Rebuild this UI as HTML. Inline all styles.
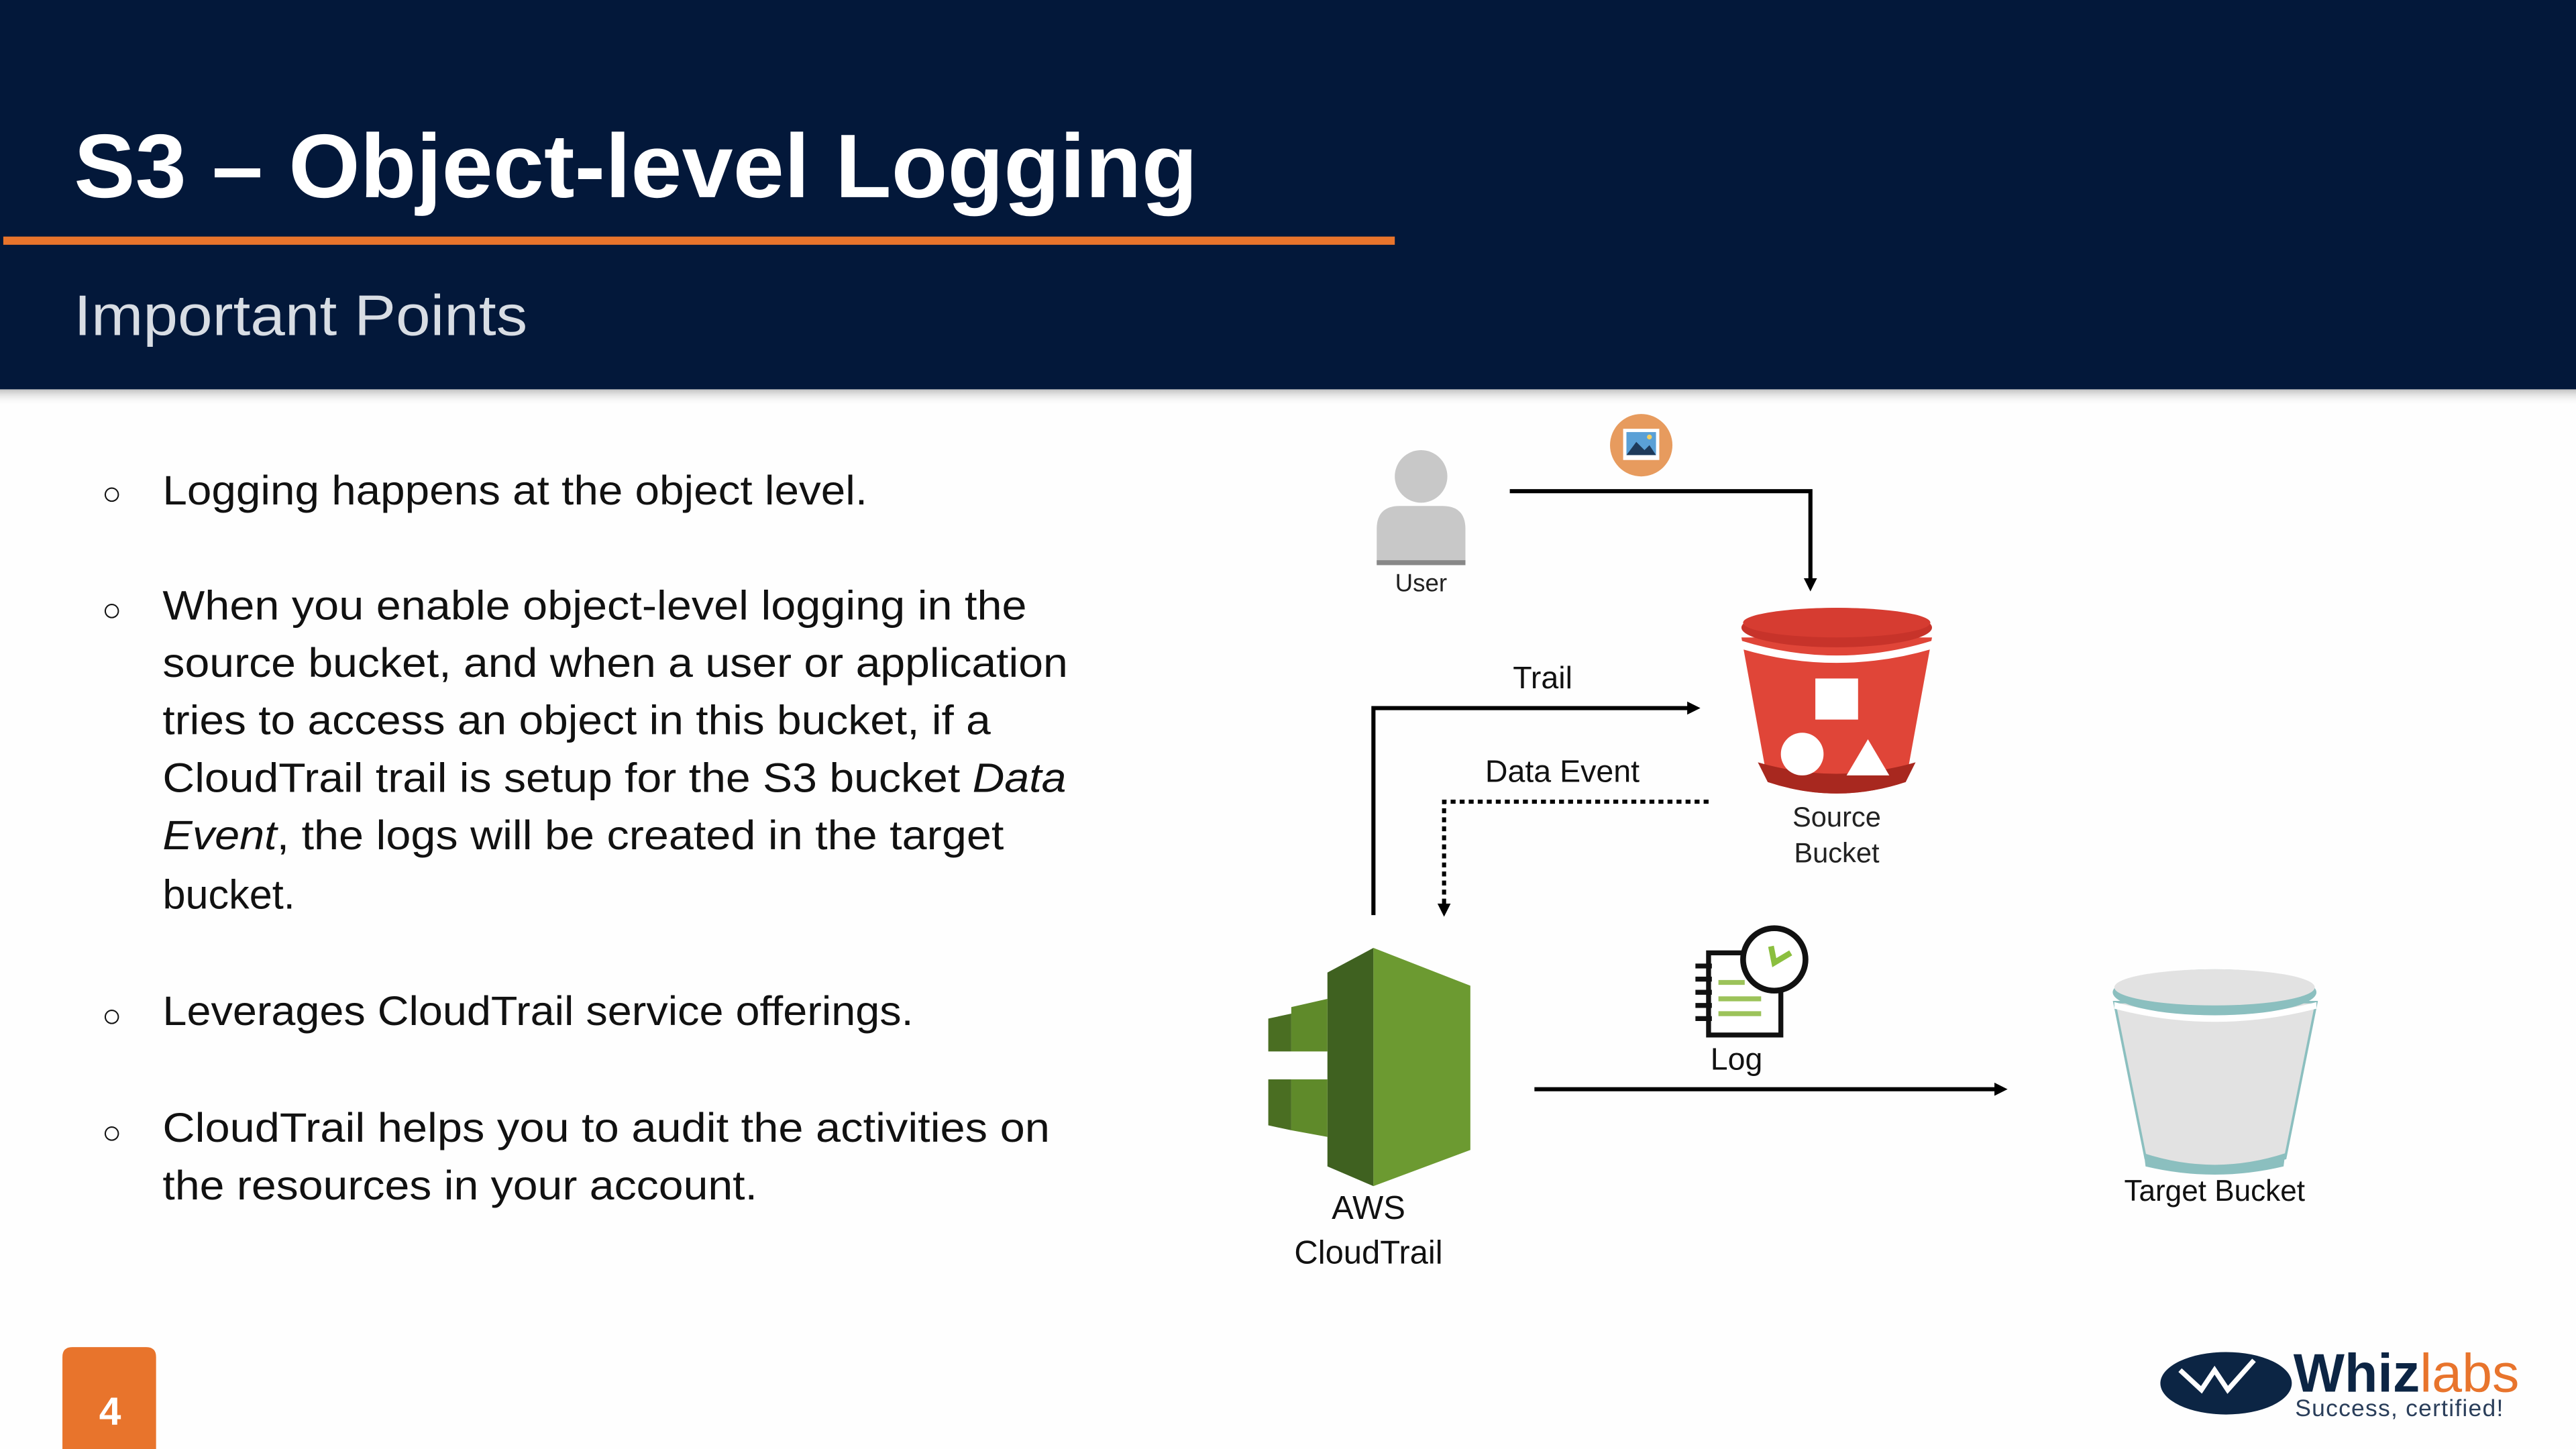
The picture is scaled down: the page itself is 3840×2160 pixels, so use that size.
<!DOCTYPE html>
<html><head><meta charset="utf-8"><style>html,body{margin:0;padding:0;background:#fff;}svg{display:block}</style></head>
<body>
<svg width="3840" height="2160" viewBox="0 0 1568 882" preserveAspectRatio="none" xmlns="http://www.w3.org/2000/svg" font-family="Liberation Sans, sans-serif">
<defs>
<linearGradient id="sh" x1="0" y1="0" x2="0" y2="1"><stop offset="0" stop-color="#999" stop-opacity="0.6"/><stop offset="1" stop-color="#fff" stop-opacity="0"/></linearGradient>
<marker id="ah" markerWidth="8" markerHeight="8" refX="4" refY="4" orient="auto" markerUnits="userSpaceOnUse"><path d="M0,0 L8,4 L0,8 z" fill="#000"/></marker>
</defs>
<rect width="1568" height="882" fill="#fefefe"/>
<rect x="0" y="0" width="1568" height="237" fill="#03183a"/>
<rect x="0" y="237" width="1568" height="10" fill="url(#sh)"/>
<text x="45" y="120" font-size="55" font-weight="bold" fill="#fff" textLength="684" lengthAdjust="spacingAndGlyphs">S3 – Object-level Logging</text>
<rect x="2" y="144" width="847" height="5" fill="#e8742c"/>
<text x="45" y="204" font-size="35" fill="#d8dde4" textLength="276" lengthAdjust="spacingAndGlyphs">Important Points</text>

<g font-size="25" fill="#111">
<text x="62" y="307" font-size="20">○</text>
<text x="99" y="307" textLength="429" lengthAdjust="spacingAndGlyphs">Logging happens at the object level.</text>
<text x="62" y="378" font-size="20">○</text>
<text x="99" y="377" textLength="526" lengthAdjust="spacingAndGlyphs">When you enable object-level logging in the</text>
<text x="99" y="412" textLength="551" lengthAdjust="spacingAndGlyphs">source bucket, and when a user or application</text>
<text x="99" y="447" textLength="504" lengthAdjust="spacingAndGlyphs">tries to access an object in this bucket, if a</text>
<text x="99" y="482" textLength="550" lengthAdjust="spacingAndGlyphs">CloudTrail trail is setup for the S3 bucket <tspan font-style="italic">Data</tspan></text>
<text x="99" y="517" textLength="512" lengthAdjust="spacingAndGlyphs"><tspan font-style="italic">Event</tspan>, the logs will be created in the target</text>
<text x="99" y="553">bucket.</text>
<text x="62" y="625" font-size="20">○</text>
<text x="99" y="624" textLength="457" lengthAdjust="spacingAndGlyphs">Leverages CloudTrail service offerings.</text>
<text x="62" y="696" font-size="20">○</text>
<text x="99" y="695" textLength="540" lengthAdjust="spacingAndGlyphs">CloudTrail helps you to audit the activities on</text>
<text x="99" y="730" textLength="362" lengthAdjust="spacingAndGlyphs">the resources in your account.</text>
</g>

<path d="M38,882 V826 Q38,820 44,820 H89 Q95,820 95,826 V882 Z" fill="#e8742c"/>
<text x="67" y="867" font-size="24" font-weight="bold" fill="#fff" text-anchor="middle">4</text>

<!-- user -->
<circle cx="865" cy="290" r="16" fill="#c8c8c8"/>
<path d="M838,343 V322 Q838,308 852,308 H878 Q892,308 892,322 V343 Z" fill="#c8c8c8"/>
<rect x="838" y="341" width="54" height="3" fill="#888"/>
<text x="865" y="360" font-size="15" text-anchor="middle" fill="#222">User</text>
<!-- image icon -->
<circle cx="999" cy="271" r="19" fill="#e79b5e"/>
<rect x="988" y="261" width="22" height="19" fill="#fff"/>
<rect x="990" y="263" width="18" height="14" fill="#5aa0d6"/>
<path d="M990,277 L996,269 L1001,274 L1004,271 L1008,277 Z" fill="#1e3a5a"/>
<circle cx="1004" cy="266" r="1.5" fill="#f5d060"/>
<polyline points="919,299 1102,299 1102,356" fill="none" stroke="#000" stroke-width="2.5" marker-end="url(#ah)"/>

<!-- source bucket -->
<path d="M1060,388 L1076,476 Q1118,490 1160,476 L1176,388 Z" fill="#e04538"/>
<path d="M1070,464 L1076,476 Q1118,490 1160,476 L1166,464 Q1118,478 1070,464Z" fill="#a8281f"/>
<path d="M1060,390 Q1118,408 1176,390 L1176,395 Q1118,412 1060,395Z" fill="#fff"/>
<ellipse cx="1118" cy="382" rx="58" ry="12" fill="#c7332a"/>
<ellipse cx="1118" cy="379" rx="57" ry="9" fill="#d63c31"/>
<rect x="1105" y="413" width="26" height="25" fill="#fff"/>
<circle cx="1097" cy="459" r="13" fill="#fff"/>
<path d="M1124,472 L1137,450 L1150,472 Z" fill="#fff"/>
<text x="1118" y="503" font-size="17" text-anchor="middle" fill="#222">Source</text>
<text x="1118" y="525" font-size="17" text-anchor="middle" fill="#222">Bucket</text>

<polyline points="836,557 836,431 1031,431" fill="none" stroke="#000" stroke-width="2.5" marker-end="url(#ah)"/>
<text x="939" y="419" font-size="19" text-anchor="middle" fill="#111">Trail</text>
<polyline points="1040,488 879,488 879,554" fill="none" stroke="#000" stroke-width="2.5" stroke-dasharray="3,2.5" marker-end="url(#ah)"/>
<text x="951" y="476" font-size="19" text-anchor="middle" fill="#111">Data Event</text>

<!-- cloudtrail -->
<path d="M808,592 L836,577 L836,722 L808,710 Z" fill="#3f6120"/>
<path d="M836,577 L895,600 L895,700 L836,722 Z" fill="#6c9a31"/>
<path d="M786,613 L808,608 L808,640 L786,640Z" fill="#5f8a2a"/>
<path d="M772,620 L786,617 L786,640 L772,640Z" fill="#4a6e22"/>
<path d="M786,657 L808,657 L808,692 L786,688Z" fill="#5f8a2a"/>
<path d="M772,657 L786,657 L786,688 L772,685Z" fill="#4a6e22"/>
<text x="833" y="742" font-size="20" text-anchor="middle" fill="#111">AWS</text>
<text x="833" y="769" font-size="20" text-anchor="middle" fill="#111">CloudTrail</text>

<!-- log icon -->
<rect x="1040" y="580" width="44" height="50" fill="#fff" stroke="#111" stroke-width="3"/>
<g stroke="#111" stroke-width="3" fill="none"><path d="M1032,588 h10 M1032,596 h10 M1032,604 h10 M1032,612 h10 M1032,620 h10"/></g>
<g stroke="#9cc35a" stroke-width="3"><path d="M1046,598 h16 M1046,608 h26 M1046,617 h26"/></g>
<circle cx="1080" cy="584" r="19" fill="#fff" stroke="#111" stroke-width="3.5"/>
<path d="M1078,576 L1080,586 L1090,580" fill="none" stroke="#8bbf3f" stroke-width="3.5"/>
<text x="1057" y="651" font-size="19" text-anchor="middle" fill="#111">Log</text>
<line x1="934" y1="663" x2="1218" y2="663" stroke="#000" stroke-width="2.5" marker-end="url(#ah)"/>

<!-- target bucket -->
<path d="M1287,610 L1306,705 Q1348,718 1391,705 L1410,610 Z" fill="#e2e2e2" stroke="#8bbfbf" stroke-width="1.5"/>
<path d="M1305,702 Q1348,716 1391,702 L1390,710 Q1348,720 1306,710Z" fill="#8bbfbf"/>
<path d="M1287,610 Q1348,626 1410,610 L1410,614 Q1348,630 1287,614Z" fill="#fff"/>
<ellipse cx="1348" cy="604" rx="62" ry="14" fill="#8bbfbf"/>
<ellipse cx="1348" cy="601" rx="61" ry="11" fill="#e2e2e2"/>
<text x="1348" y="731" font-size="18" text-anchor="middle" fill="#111">Target Bucket</text>

<!-- logo -->
<ellipse cx="1355" cy="842" rx="40" ry="19" fill="#0c2544"/>
<path d="M1327,834 L1340,846 L1348,834 L1356,846 L1372,828" fill="none" stroke="#fff" stroke-width="3"/>
<text x="1396" y="847" font-size="33" font-weight="bold" fill="#0c2544">Whiz<tspan font-weight="normal" fill="#e8742c">labs</tspan></text>
<text x="1397" y="862" font-size="14.5" fill="#2a3e5a" letter-spacing="0.5">Success, certified!</text>
</svg>
</body></html>
